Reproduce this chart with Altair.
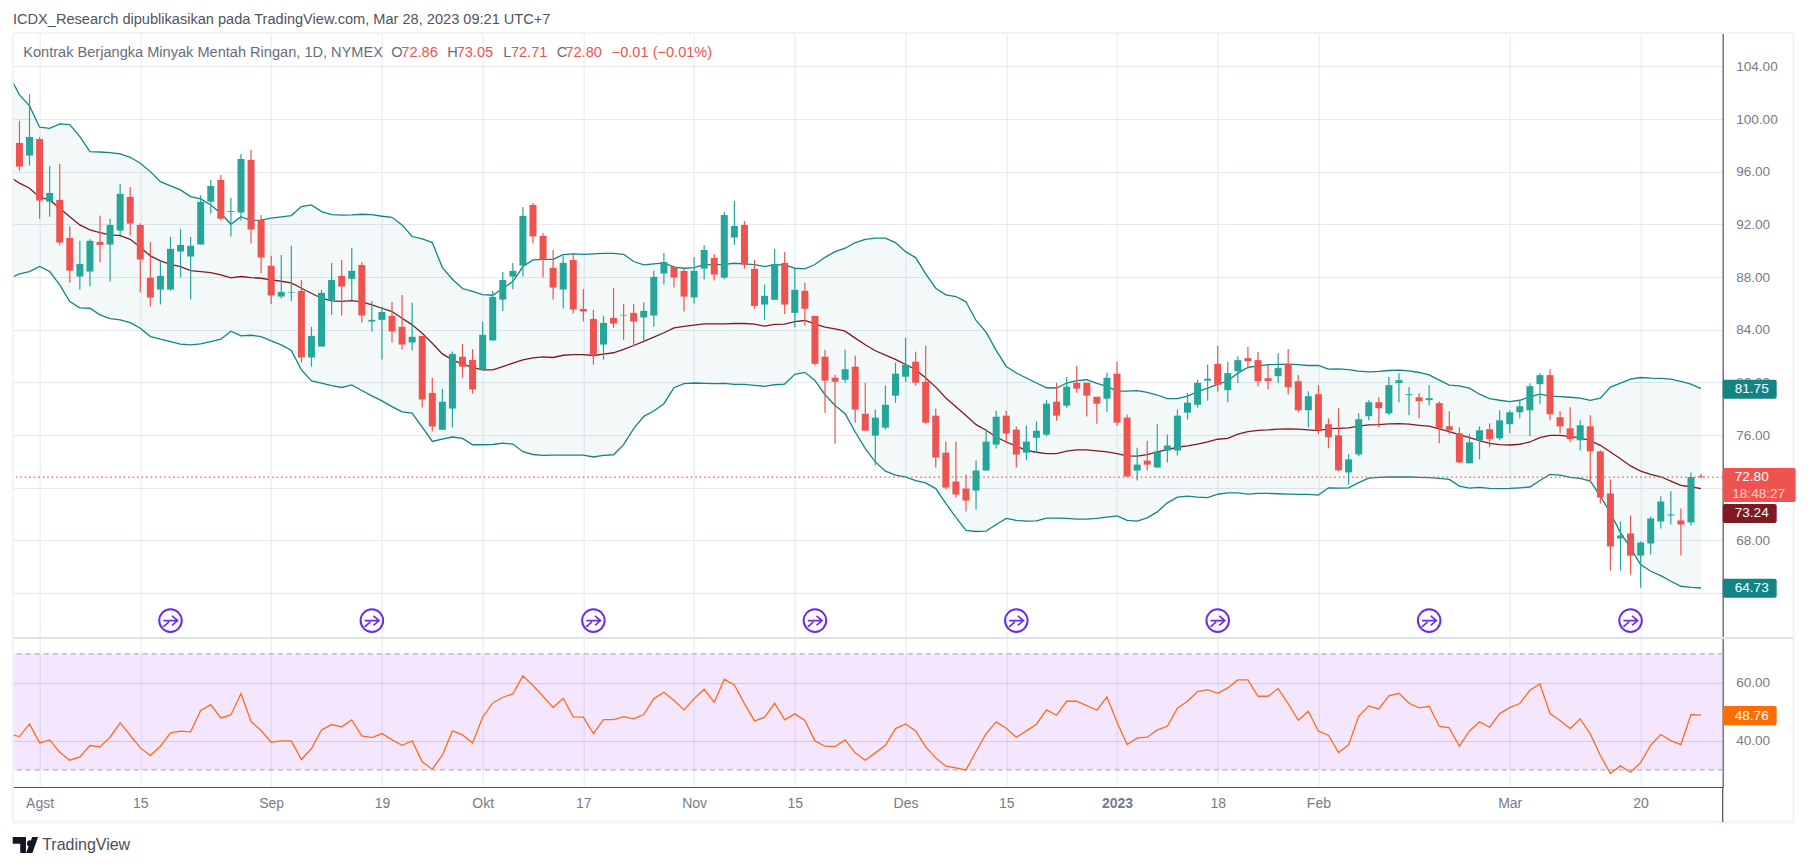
import altair as alt
import pandas as pd

opens = [98.19,97.23,98.49,93.73,93.86,90.97,88.04,88.42,90.67,90.47,91.53,94.09,91.96,87.94,87.05,87.05,89.94,89.56,90.47,93.73,
95.38,92.95,92.90,96.90,92.34,88.85,86.52,86.82,86.95,81.89,82.72,86.21,88.09,87.86,88.92,84.62,84.75,85.05,84.22,83.03,
83.53,79.20,76.40,78.01,81.94,81.71,80.97,83.18,86.29,88.04,88.87,93.48,91.13,88.70,87.05,89.30,85.58,84.82,82.87,84.90,
85.13,85.28,84.93,85.08,88.27,88.77,88.47,86.45,88.64,89.45,87.96,91.00,91.96,88.62,85.91,86.27,89.07,85.28,86.95,85.05,
81.95,80.35,80.20,81.19,77.62,75.95,76.56,78.99,80.43,81.57,80.05,77.47,74.66,72.47,71.93,71.78,73.30,75.27,77.47,76.41,
74.66,75.80,76.03,78.53,78.23,79.97,79.97,78.91,78.76,80.66,77.32,73.30,74.06,73.53,74.82,74.82,77.70,78.30,80.13,81.41,
79.41,80.85,81.84,81.69,80.32,80.47,81.39,80.09,77.88,79.10,76.82,75.98,73.16,74.53,77.43,78.49,77.65,79.94,79.03,78.87,
78.65,78.42,76.66,76.13,73.85,75.60,76.44,75.75,76.82,77.73,77.88,79.86,80.55,77.35,76.51,75.60,76.66,74.76,71.56,68.14,
68.52,66.84,67.76,69.43,69.89,69.51,69.36,72.86]
highs = [99.86,101.89,98.64,96.44,96.59,91.86,90.75,90.87,92.65,92.42,95.08,94.85,92.09,90.67,89.20,91.05,91.66,91.05,94.21,95.38,
95.76,94.01,97.35,97.66,92.72,89.61,89.68,90.37,87.78,84.22,87.03,89.07,89.30,90.20,89.15,86.19,85.76,86.11,86.64,86.04,
83.53,80.34,79.50,82.34,82.92,82.52,84.60,86.95,88.39,89.07,93.33,93.63,91.35,90.06,89.61,89.81,87.10,85.51,85.05,87.18,
85.96,85.96,86.09,88.47,89.83,88.87,88.64,89.53,90.44,89.76,92.94,93.78,92.26,89.30,87.43,90.13,89.91,88.70,87.56,85.05,
82.48,80.58,82.48,82.02,79.97,77.93,79.75,81.49,83.39,82.32,82.78,78.00,75.50,75.50,73.00,74.06,76.48,77.85,77.85,76.64,
76.71,77.02,78.66,79.97,80.43,81.26,79.97,78.91,80.73,81.57,77.55,75.04,75.57,76.86,76.03,77.93,79.19,80.20,81.34,82.78,
81.54,81.99,82.68,82.30,81.31,82.22,82.53,80.55,79.33,79.79,77.27,78.04,74.53,77.65,78.64,78.87,80.40,80.70,79.64,79.18,
79.79,78.57,77.81,76.59,76.06,76.66,76.89,77.88,77.88,78.64,79.94,80.70,81.00,77.81,78.11,77.12,77.50,74.84,72.63,69.43,
69.89,67.91,69.81,71.34,71.72,70.42,73.16,73.05]
lows = [96.06,96.47,92.42,92.59,90.39,87.56,87.05,87.28,89.10,87.66,91.20,91.15,86.82,85.76,85.91,86.97,87.96,86.29,90.47,92.82,
92.29,91.08,92.29,90.54,88.29,85.96,86.37,86.19,81.51,81.20,82.72,85.13,85.08,86.21,84.54,83.86,81.73,83.03,82.49,82.42,
78.09,76.27,76.40,76.57,80.37,79.15,80.95,83.18,85.43,87.08,88.04,90.54,87.96,86.29,85.61,85.23,84.62,81.35,81.73,84.14,
83.23,82.75,83.18,84.23,87.43,87.20,85.38,85.99,87.81,87.73,87.86,90.46,88.64,85.59,84.75,86.27,85.20,84.16,84.30,81.29,
77.70,75.35,79.97,76.94,76.33,73.68,76.41,78.46,80.05,79.75,76.86,73.53,71.86,71.25,70.19,70.34,73.30,74.97,75.35,73.53,
74.13,74.66,75.90,77.09,78.08,79.21,77.40,76.86,77.77,76.71,72.85,72.54,73.30,73.53,73.91,74.44,77.17,78.08,78.61,79.29,
78.49,79.94,81.08,79.71,79.48,79.94,79.10,77.73,76.59,76.06,74.99,73.24,72.25,74.38,77.12,76.59,77.50,78.49,77.50,77.27,
78.27,75.37,76.06,73.85,73.85,74.15,75.07,75.60,76.13,77.27,75.90,78.34,77.12,76.13,75.45,74.84,72.40,70.80,65.70,65.70,
65.40,64.40,66.92,68.90,69.20,66.84,69.13,72.71]
closes = [96.39,98.64,93.81,94.39,90.62,88.49,89.00,90.75,90.44,91.96,94.32,92.06,89.33,86.44,88.09,90.14,90.44,90.37,93.71,94.92,
92.44,93.02,96.97,91.61,89.48,86.59,86.87,86.87,81.89,83.53,86.80,87.78,87.28,88.47,85.08,84.75,85.35,83.86,82.87,83.46,
78.70,76.65,78.53,82.16,81.20,79.46,83.61,86.49,87.78,88.47,92.65,91.08,89.33,87.20,89.08,85.53,85.38,82.04,84.52,84.47,
85.08,84.62,85.43,88.01,89.15,87.96,86.52,88.47,90.06,88.19,92.71,91.88,88.95,85.81,86.57,89.00,85.91,87.03,85.59,81.41,
80.13,80.05,81.00,77.93,76.33,77.32,78.30,80.66,81.34,79.97,76.94,74.29,72.01,71.48,71.02,73.30,75.50,77.39,76.11,74.51,
75.50,76.33,78.38,77.47,79.67,79.52,78.99,78.38,80.35,76.94,72.85,73.75,73.75,74.74,75.20,77.47,78.46,79.97,80.28,79.82,
80.70,81.69,81.61,80.09,80.09,81.08,79.63,77.88,78.95,76.36,75.83,73.32,74.15,77.20,78.49,78.04,79.79,80.17,79.10,78.57,
78.80,76.51,76.36,73.92,75.45,76.36,75.68,77.12,77.73,78.18,79.71,80.55,77.58,76.66,75.68,76.74,74.76,71.26,67.53,68.37,
66.84,67.83,69.66,70.95,69.97,69.20,72.81,72.80]

upper = [103.30,101.84,101.00,99.38,99.30,99.63,99.58,98.67,97.53,97.50,97.46,97.35,97.10,96.65,96.01,95.25,94.92,94.62,94.11,93.94,93.48,
92.85,92.01,92.59,92.29,92.32,92.47,92.57,92.67,93.35,93.48,92.97,92.75,92.70,92.72,92.77,92.75,92.62,92.54,91.96,91.08,
90.90,90.62,88.72,87.83,87.13,86.92,86.67,86.62,87.13,87.66,88.80,89.30,89.35,89.35,89.71,89.76,89.73,89.76,89.80,89.80,
89.73,89.18,88.92,89.00,89.07,88.75,88.67,88.72,88.95,88.95,88.97,89.05,89.00,88.95,88.80,88.95,88.92,88.67,88.62,88.95,
89.50,89.93,90.19,90.62,90.87,90.95,90.95,90.62,89.93,89.48,88.24,87.15,86.65,86.52,86.12,84.70,83.82,82.43,81.21,80.71,
80.33,79.95,79.59,79.57,79.95,80.13,80.20,79.92,79.70,79.34,79.34,79.37,79.24,79.04,78.76,78.76,78.96,79.29,79.57,79.85,
80.12,80.70,81.13,81.26,81.34,81.36,81.39,81.34,81.28,81.28,81.00,81.03,80.96,80.85,80.80,80.83,80.90,80.93,80.88,80.75,
80.57,80.17,79.79,79.74,79.56,79.10,78.77,78.64,78.54,78.64,78.90,79.10,78.95,78.92,78.87,78.80,78.64,78.80,79.64,79.94,
80.24,80.37,80.32,80.30,80.24,80.07,79.86,79.53]
basis = [95.63,95.13,94.75,94.06,93.86,93.23,92.59,91.96,91.58,91.38,91.20,91.15,90.87,90.27,89.61,89.23,88.97,88.80,88.49,88.42,88.34,
88.16,87.94,88.04,87.96,87.91,87.78,87.68,87.56,87.15,86.77,86.39,86.19,86.16,86.21,86.11,85.89,85.63,85.38,84.87,84.37,
83.73,82.97,82.16,81.71,81.38,81.13,80.95,80.95,81.20,81.46,81.71,81.86,81.94,81.89,82.06,82.11,82.11,82.04,82.15,82.25,
82.50,82.80,83.11,83.44,83.77,84.14,84.25,84.35,84.45,84.45,84.45,84.47,84.47,84.42,84.27,84.40,84.42,84.62,84.70,84.45,
84.20,84.07,83.89,83.36,82.86,82.40,82.07,81.74,81.36,80.98,80.33,79.64,78.81,78.15,77.48,76.79,76.36,75.85,75.47,75.15,
74.84,74.69,74.59,74.59,74.77,74.87,74.87,74.79,74.72,74.59,74.41,74.39,74.51,74.72,74.89,75.07,75.17,75.30,75.47,75.68,
75.75,76.06,76.26,76.36,76.39,76.44,76.46,76.44,76.39,76.34,76.49,76.51,76.54,76.67,76.77,76.79,76.84,76.87,76.82,76.74,
76.67,76.46,76.26,76.03,75.80,75.57,75.37,75.27,75.24,75.30,75.47,75.80,75.98,75.98,75.88,75.78,75.57,75.22,74.71,74.20,
73.65,73.26,73.01,72.83,72.50,72.17,72.07,71.92]
lower = [87.91,88.24,88.42,88.80,88.42,87.40,86.14,85.66,85.63,85.13,84.85,84.75,84.54,84.11,83.48,83.28,83.10,82.90,82.85,82.92,83.10,
83.28,83.89,83.53,83.58,83.48,83.15,82.85,82.42,80.95,80.11,79.94,79.76,79.61,79.81,79.38,78.97,78.59,78.16,77.76,77.66,
76.60,75.51,75.69,75.85,75.74,75.26,75.26,75.28,75.39,75.31,74.73,74.52,74.45,74.48,74.47,74.48,74.48,74.33,74.45,74.50,
75.27,76.48,77.42,77.82,78.38,79.59,79.90,79.95,79.92,79.90,79.92,79.85,79.85,79.77,79.70,79.82,79.87,80.61,80.76,80.15,
79.06,78.25,77.62,76.23,74.97,73.96,73.25,72.95,72.82,72.54,72.36,71.93,70.80,69.74,68.75,68.67,68.70,69.20,69.66,69.51,
69.46,69.48,69.68,69.68,69.66,69.61,69.61,69.66,69.76,69.86,69.51,69.46,69.71,70.16,70.85,71.28,71.35,71.28,71.25,71.50,
71.61,71.61,71.51,71.56,71.56,71.54,71.51,71.49,71.49,71.44,71.99,71.97,71.99,72.38,72.73,72.78,72.81,72.81,72.81,72.78,
72.76,72.71,72.63,72.12,71.97,72.02,71.94,71.92,71.94,71.99,72.05,72.55,73.01,72.96,72.78,72.71,72.50,71.36,70.09,68.57,
67.43,66.16,65.65,65.32,64.89,64.51,64.43,64.38]
rsi = [42.40,41.50,45.87,39.32,40.35,36.10,33.34,34.49,38.40,37.94,41.27,46.21,41.96,37.59,34.95,38.17,42.76,43.34,43.11,50.47,52.53,
47.94,48.97,56.33,46.67,43.57,39.55,40.00,40.00,33.57,37.36,43.80,45.64,44.83,47.25,41.73,41.15,42.53,40.35,38.51,40.00,
32.76,30.24,35.06,43.45,42.07,39.32,48.17,53.11,55.06,56.21,62.42,59.09,55.41,51.50,54.72,48.28,48.17,42.53,47.36,47.36,
48.40,47.59,49.09,54.60,56.79,53.91,50.70,54.60,57.82,53.34,61.27,59.31,52.88,46.90,48.17,52.99,47.25,49.32,47.02,40.00,
38.17,38.05,40.35,35.87,33.34,35.87,38.51,44.26,45.87,43.45,37.94,34.14,31.27,30.70,30.00,36.33,42.53,46.56,44.37,41.27,
43.45,45.75,50.70,48.86,53.68,53.68,52.19,50.58,55.18,46.44,38.74,41.04,41.27,43.80,45.06,51.27,53.68,57.02,57.71,56.44,
58.28,61.04,61.04,55.41,55.41,58.05,52.88,47.13,50.23,43.34,41.96,35.98,38.63,48.51,52.07,51.04,55.52,56.44,52.99,51.38,
51.96,45.06,44.49,38.17,43.45,46.56,44.72,49.43,51.50,52.88,57.48,59.66,49.43,47.02,44.26,47.59,42.42,34.95,28.74,31.38,
29.20,32.53,38.51,42.19,40.12,38.74,49.09,48.86]

tick_idx = [2,12,25,36,46,56,67,77,88,98,109,119,129,148,161]
tick_txt = ["Agst","15","Sep","19","Okt","17","Nov","15","Des","15","2023","18","Feb","Mar","20"]
price_ticks = [64,68,72,76,80,84,88,92,96,100,104]
rsi_ticks = [40,60]
icon_idx = [15,35,57,79,99,119,140,160]
icon_price = [61.9]*8

UP, DOWN = "#26a69a", "#ef5350"
TEAL, MAROON, ORANGE = "#138484", "#801922", "#ff6d00"
GRID, FRAME, DARK, AXTXT = "#e2eaf0", "#f0f3fa", "#50535e", "#787b86"
FONT = "Liberation Sans"
W, H1, H2 = 1710, 605, 149
XDOM = [-0.67, 169.15]

candles = pd.DataFrame({"i": range(len(opens)), "o": opens, "h": highs, "l": lows, "c": closes})
candles["col"] = [UP if c >= o else DOWN for o, c in zip(opens, closes)]
ind = pd.DataFrame({"i": range(-1, 168), "u": upper, "b": basis, "d": lower, "r": rsi})
dummy = pd.DataFrame({"a": [0]})
xs = alt.Scale(domain=XDOM, nice=False, zero=False, padding=0)
ys = alt.Scale(domain=[60.58, 106.54], nice=False, zero=False)
rs = alt.Scale(domain=[24.1, 75.5], nice=False, zero=False)
label_expr = "[" + ",".join(f"'{t}'" for t in tick_txt) + "][indexof([" + ",".join(map(str, tick_idx)) + "],datum.value)]"
# the 64 and 72 labels sit fully behind the value tags in the reference, so they are not drawn
price_label_expr = "(datum.value==64||datum.value==72)?'':format(datum.value,'.2f')"

x_ax1 = alt.Axis(values=tick_idx, labels=False, ticks=False, domain=False, title=None, grid=True, gridColor=GRID, gridWidth=1)
y_ax1 = alt.Axis(orient="right", values=price_ticks, labelExpr=price_label_expr, title=None, ticks=False, tickSize=0, labelPadding=13,
                 labelColor=AXTXT, labelFont=FONT, labelFontSize=13.6, domain=True, domainColor=DARK, domainWidth=1.2,
                 grid=True, gridColor=GRID, gridWidth=1.1, labelOverlap=False, labelBound=False, labelFlush=False)
x_ax2 = alt.Axis(values=tick_idx, labelExpr=label_expr, ticks=False, tickSize=0, title=None, domain=True, domainColor=DARK,
                 domainWidth=1.2, grid=True, gridColor=GRID, gridWidth=1, labelColor=AXTXT, labelFont=FONT, labelFontSize=14,
                 labelPadding=10, labelOverlap=False, labelBound=False, labelFlush=False,
                 labelFontWeight=alt.condition("datum.value==109", alt.value("bold"), alt.value("normal")))
y_ax2 = alt.Axis(orient="right", values=rsi_ticks, format=".2f", title=None, ticks=False, tickSize=0, labelPadding=13,
                 labelColor=AXTXT, labelFont=FONT, labelFontSize=13.6, domain=True, domainColor=DARK, domainWidth=1.2,
                 grid=True, gridColor="#dfd8ee", gridWidth=1.1, labelOverlap=False)
X1 = alt.X("i:Q", scale=xs, axis=x_ax1)
X2 = alt.X("i:Q", scale=xs, axis=x_ax2)


def Y1(f):
    return alt.Y(f, scale=ys, axis=y_ax1)


def Y2(f):
    return alt.Y(f, scale=rs, axis=y_ax2)


def rule(x1, x2, y1, y2, color, width=1):
    return alt.Chart(dummy).mark_rule(color=color, strokeWidth=width, clip=False).encode(
        x=alt.value(x1), x2=alt.value(x2), y=alt.value(y1), y2=alt.value(y2))


def txt(s, x, y, color, size=14.6, align="left", font=FONT, weight="normal"):
    return alt.Chart(dummy).mark_text(text=s, color=color, fontSize=size, align=align, baseline="middle",
                                      font=font, fontWeight=weight, clip=False).encode(x=alt.value(x), y=alt.value(y))


area = alt.Chart(ind).mark_area(color=TEAL, opacity=0.05, clip=True).encode(x=X1, y=Y1("u:Q"), y2="d:Q")
l_basis = alt.Chart(ind).mark_line(color=MAROON, strokeWidth=1.3, clip=True).encode(x=X1, y=Y1("b:Q"))
l_up = alt.Chart(ind).mark_line(color=TEAL, strokeWidth=1.3, clip=True).encode(x=X1, y=Y1("u:Q"))
l_lo = alt.Chart(ind).mark_line(color=TEAL, strokeWidth=1.3, clip=True).encode(x=X1, y=Y1("d:Q"))
wicks = alt.Chart(candles).mark_rule(strokeWidth=1.2).encode(x=X1, y=Y1("h:Q"), y2="l:Q", color=alt.Color("col:N", scale=None))
bodies = alt.Chart(candles).mark_bar(size=7).encode(x=X1, y=Y1("o:Q"), y2="c:Q", color=alt.Color("col:N", scale=None))
last_line = alt.Chart(pd.DataFrame({"p": [closes[-1]]})).mark_rule(color=DOWN, strokeWidth=1.2, strokeDash=[1.5, 3]).encode(y=Y1("p:Q"))
icons_df = pd.DataFrame({"i": icon_idx, "p": icon_price})
icon_c = alt.Chart(icons_df).mark_point(shape="circle", size=510, filled=False, color="#6a2cf0", strokeWidth=2, opacity=1).encode(
    x=X1, y=Y1("p:Q"))
arrow = "M-0.55,0L0.55,0M0.12,-0.36L0.55,0L0.12,0.36M-0.55,0.48L-0.12,0.1"
icon_a = alt.Chart(icons_df).mark_point(shape=arrow, size=676, filled=False, color="#6a2cf0", strokeWidth=1.6, opacity=1).encode(
    x=X1, y=Y1("p:Q"))

price_tags = pd.DataFrame({"t": [80.19, 70.76, 65.08], "b": [78.75, 69.32, 63.64], "c": [TEAL, MAROON, TEAL]})
tags1 = alt.Chart(price_tags).mark_rect(cornerRadius=2, clip=False).encode(
    x=alt.value(W), x2=alt.value(W + 54), y=Y1("t:Q"), y2="b:Q", color=alt.Color("c:N", scale=None))
tag_close = alt.Chart(pd.DataFrame({"t": [73.49], "b": [70.91]})).mark_rect(cornerRadius=2, color=DOWN, clip=False).encode(
    x=alt.value(W), x2=alt.value(W + 73), y=Y1("t:Q"), y2="b:Q")

tag_txt = pd.DataFrame({"p": [79.47, 70.04, 64.36, 72.80], "s": ["81.75", "73.24", "64.73", "72.80"]})
tags_t = alt.Chart(tag_txt).mark_text(color="white", fontSize=13.6, font=FONT, align="center", baseline="middle", clip=False).encode(
    x=alt.value(W + 29), y=Y1("p:Q"), text="s:N")
countdown = alt.Chart(pd.DataFrame({"p": [71.49], "s": ["18:48:27"]})).mark_text(
    color="#fbd5d3", fontSize=13.6, font=FONT, align="center", baseline="middle", clip=False).encode(
    x=alt.value(W + 36), y=Y1("p:Q"), text="s:N")

ink = "#ef5350"
head = [
    txt("ICDX_Research dipublikasikan pada TradingView.com, Mar 28, 2023 09:21 UTC+7", 0.3, -13, "#50535e"),
    txt("Kontrak Berjangka Minyak Mentah Ringan, 1D, NYMEX", 10.5, 20, "#6a6d78"),
    txt("O", 378.5, 20, "#6a6d78"), txt("72.86", 388.6, 20, ink),
    txt("H", 434.5, 20, "#6a6d78"), txt("73.05", 444, 20, ink),
    txt("L", 490.6, 20, "#6a6d78"), txt("72.71", 498.2, 20, ink),
    txt("C", 544, 20, "#6a6d78"), txt("72.80", 552.7, 20, ink),
    txt("\u22120.01 (\u22120.01%)", 599, 20, ink),
]
frame1 = [rule(0, 0, 0, H1, FRAME, 2), rule(0, 1781, 0, 0, FRAME, 2), rule(1781, 1781, 0, H1, FRAME, 2)]

pane1 = alt.layer(area, l_basis, l_up, l_lo, wicks, bodies, last_line, icon_c, icon_a,
                  *frame1, tags1, tag_close, tags_t, countdown, *head).properties(width=W, height=H1)

rsi_band = alt.Chart(pd.DataFrame({"t": [70], "b": [30]})).mark_rect(color="#9105eb", opacity=0.1).encode(
    y=Y2("t:Q"), y2="b:Q", x=alt.value(0), x2=alt.value(W))
rsi_rules = alt.Chart(pd.DataFrame({"v": [70, 30]})).mark_rule(color="#b7aac4", strokeDash=[5, 4], strokeWidth=1.2).encode(y=Y2("v:Q"))
rsi_line = alt.Chart(ind).mark_line(color="#ff6d1a", strokeWidth=1.3, clip=True).encode(x=X2, y=Y2("r:Q"))
rsi_tag = alt.Chart(pd.DataFrame({"t": [52.0], "b": [45.4]})).mark_rect(cornerRadius=2, color=ORANGE, clip=False).encode(
    x=alt.value(W), x2=alt.value(W + 54), y=Y2("t:Q"), y2="b:Q")
rsi_tag_t = alt.Chart(pd.DataFrame({"p": [48.7], "s": ["48.76"]})).mark_text(
    color="white", fontSize=13.6, font=FONT, align="center", baseline="middle", clip=False).encode(
    x=alt.value(W + 29), y=Y2("p:Q"), text="s:N")
frame2 = [rule(0, 1781, 0, 0, "#e0e3eb", 2), rule(0, 0, 0, H2 + 35, FRAME, 2), rule(1781, 1781, 0, H2 + 35, FRAME, 2),
          rule(0, 1781, H2 + 35, H2 + 35, FRAME, 3), rule(W, W, H2, H2 + 35, DARK, 1.2)]
logo = alt.Chart(dummy).mark_point(
    shape="M-1,-0.62L0.02,-0.62L0.02,0.62L-0.42,0.62L-0.42,-0.1L-1,-0.1ZM0.95,-0.62L0.52,0.62L0.03,0.62L0.5,-0.62ZM0.3,-0.36A0.2,0.25 0 1,1 0.29,-0.36Z",
    size=676, filled=True, color="#131722", opacity=1, clip=False).encode(x=alt.value(13), y=alt.value(H2 + 58))
word = txt("TradingView", 29.5, H2 + 58, "#4a4e57", 16)

pane2 = alt.layer(rsi_band, rsi_rules, rsi_line, *frame2, rsi_tag, rsi_tag_t, logo, word).properties(width=W, height=H2)

chart = alt.vconcat(pane1, pane2, spacing=0, bounds="flush").properties(
    padding={"left": 2.7, "top": 4, "right": 5, "bottom": 5}, background="white"
).configure_view(stroke=None)

chart.save("out.html", embed_options={"renderer": "svg", "actions": False})
